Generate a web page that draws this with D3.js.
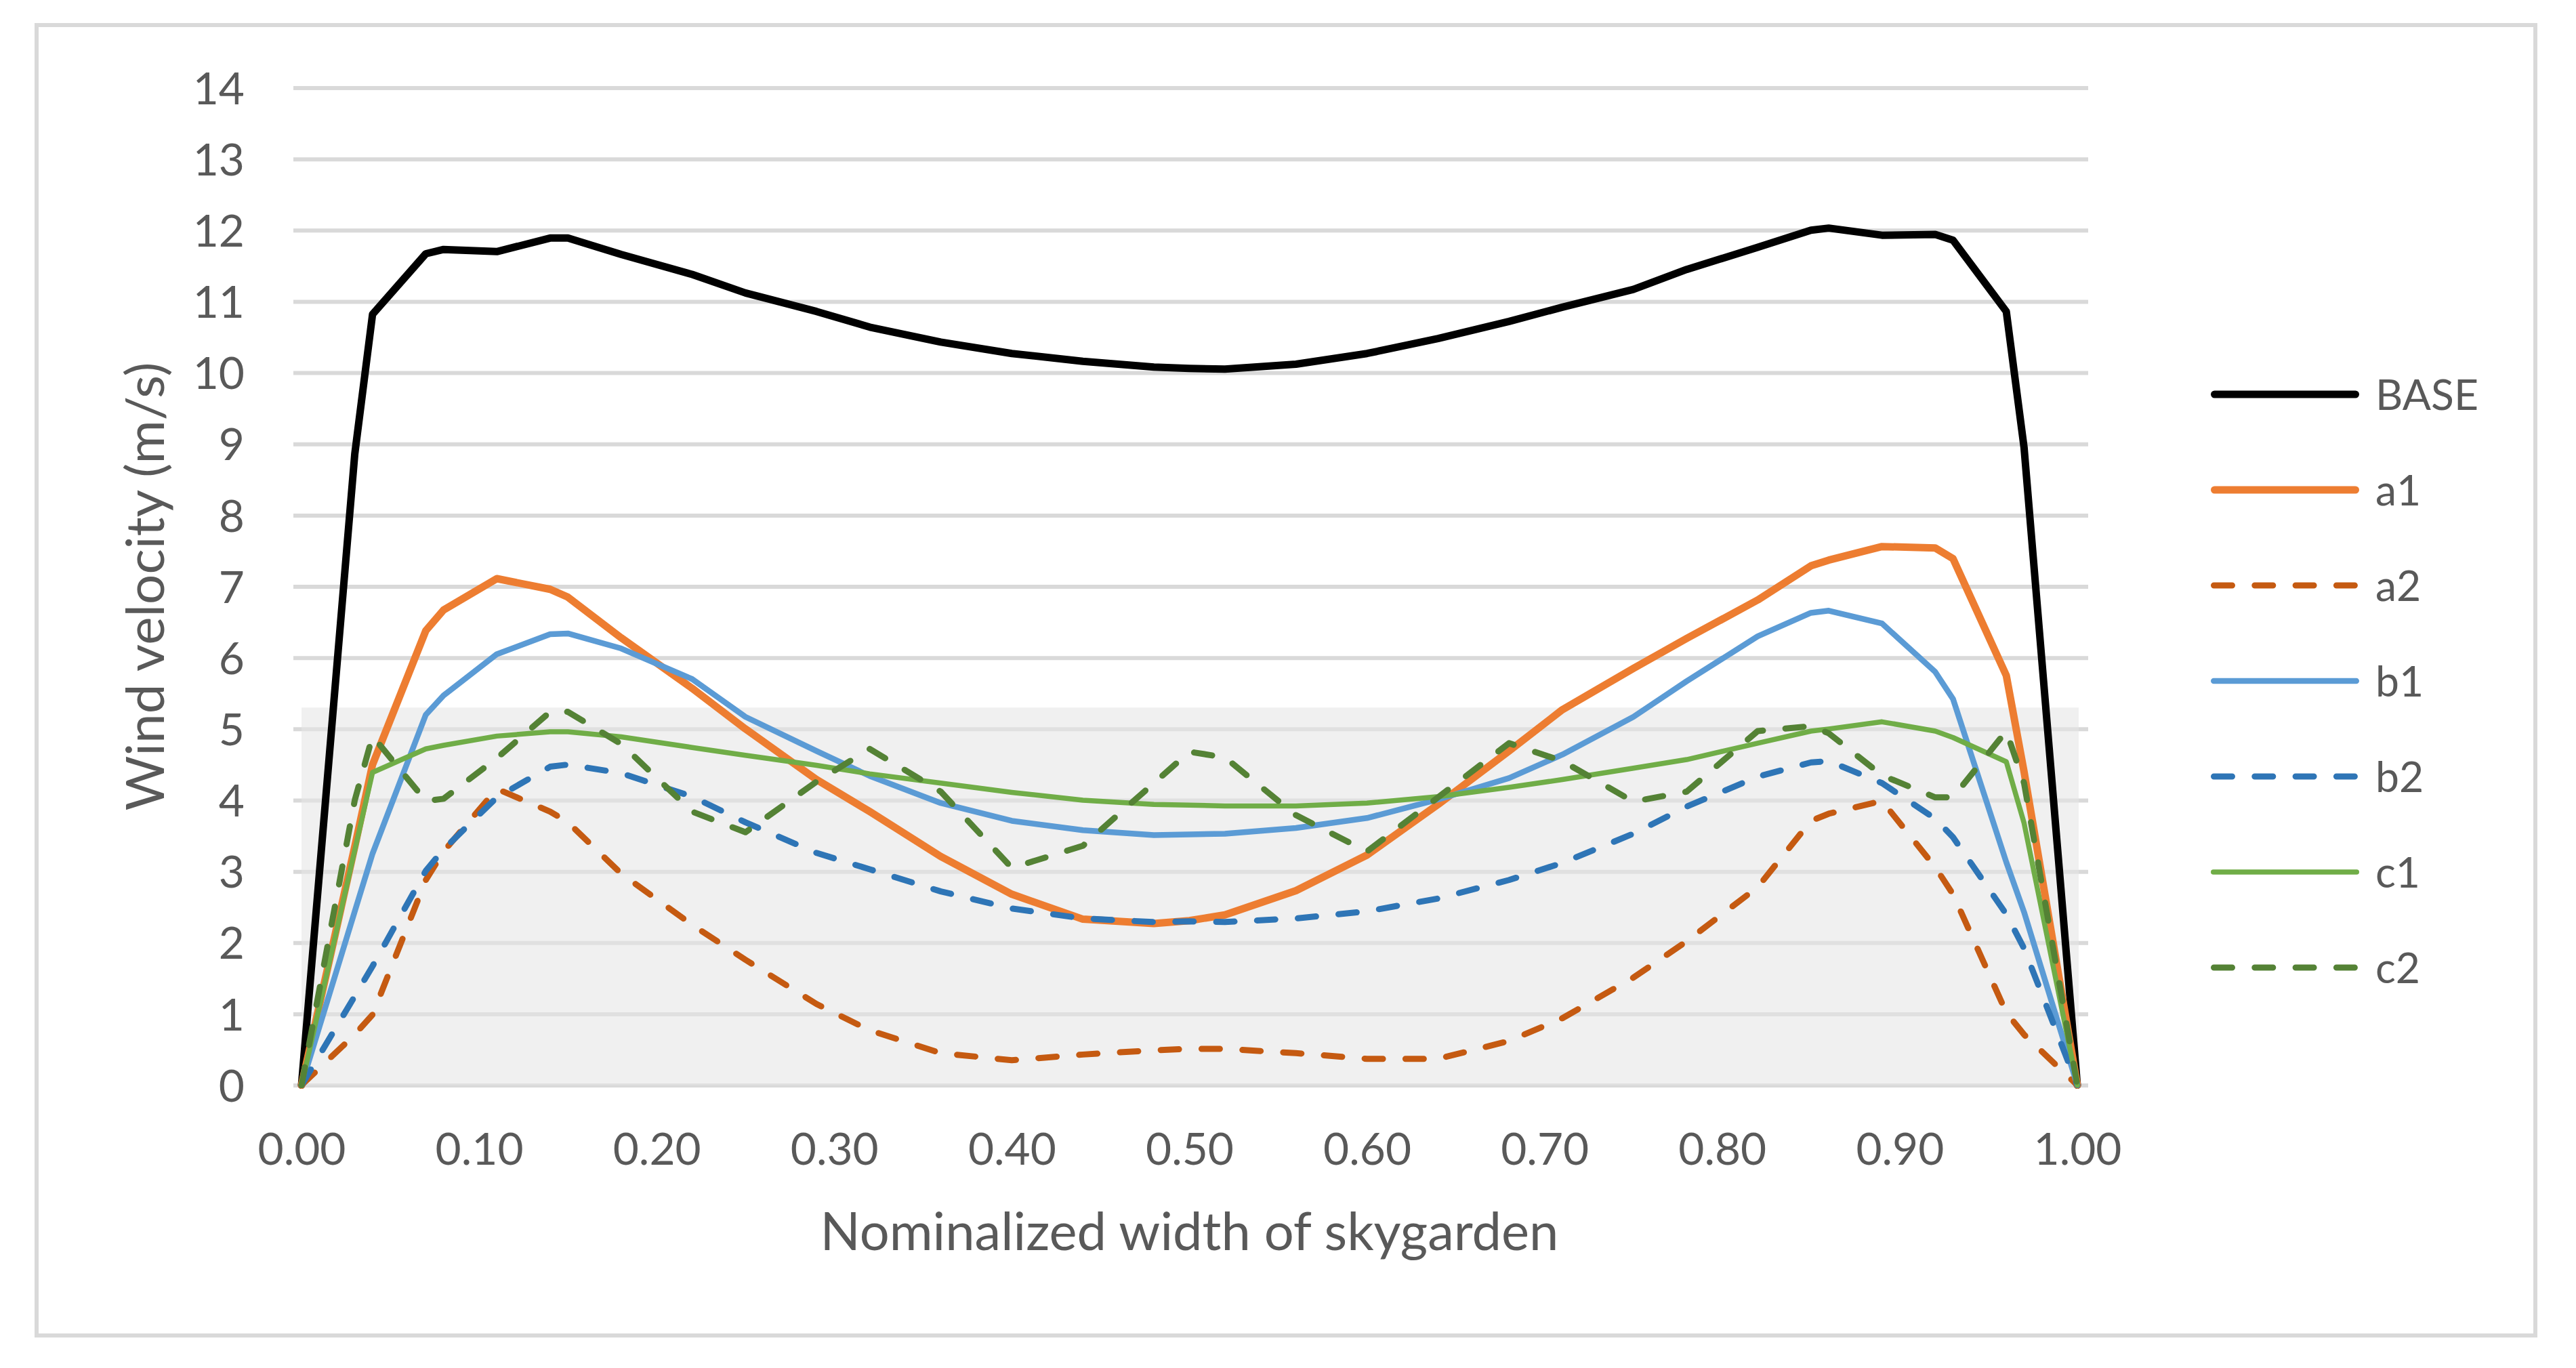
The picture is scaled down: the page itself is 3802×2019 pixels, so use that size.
<!DOCTYPE html>
<html>
<head>
<meta charset="utf-8">
<script src="https://cdn.jsdelivr.net/npm/d3@7"></script>
<style>
  html, body { margin: 0; padding: 0; background: #fff; }
  svg text { font-family: Lato, "Open Sans", sans-serif; fill: #595959; }
</style>
</head>
<body>
<div id="chart"></div>
<script>
// nominalized positions across the skygarden (shared by every series)
var xPos = [0, 0.03, 0.04, 0.07, 0.08, 0.11, 0.14, 0.15, 0.18, 0.22, 0.25, 0.29, 0.32, 0.36, 0.40, 0.44, 0.48, 0.50,
            0.52, 0.56, 0.60, 0.64, 0.68, 0.71, 0.75, 0.78, 0.82, 0.85, 0.86, 0.89, 0.92, 0.93, 0.96, 0.97, 1.00];

// wind velocity (m/s)
var baseVals = [0, 8.86, 10.82, 11.67, 11.73, 11.70, 11.89, 11.89, 11.66, 11.38, 11.12, 10.86, 10.64, 10.43, 10.27, 10.16, 10.08, 10.06,
                10.05, 10.12, 10.27, 10.48, 10.72, 10.92, 11.17, 11.45, 11.76, 12.00, 12.03, 11.93, 11.94, 11.86, 10.86, 8.95, 0];
var a1Vals = [0, 3.35, 4.5, 6.38, 6.67, 7.11, 6.96, 6.85, 6.28, 5.57, 5.0, 4.29, 3.84, 3.21, 2.68, 2.33, 2.27, 2.31,
              2.39, 2.73, 3.23, 3.94, 4.69, 5.27, 5.85, 6.27, 6.81, 7.29, 7.37, 7.56, 7.54, 7.39, 5.75, 4.4, 0];
var a2Vals = [0, 0.71, 0.99, 2.88, 3.28, 4.16, 3.84, 3.69, 2.97, 2.25, 1.76, 1.14, 0.77, 0.45, 0.35, 0.43, 0.49, 0.51,
              0.51, 0.45, 0.37, 0.37, 0.62, 0.94, 1.51, 2.02, 2.78, 3.71, 3.81, 3.99, 3.06, 2.68, 1.02, 0.71, 0];
var b1Vals = [0, 2.44, 3.25, 5.20, 5.47, 6.05, 6.33, 6.34, 6.13, 5.70, 5.17, 4.69, 4.34, 3.96, 3.71, 3.58, 3.51, 3.52,
              3.53, 3.61, 3.75, 4.01, 4.31, 4.64, 5.17, 5.67, 6.30, 6.63, 6.66, 6.48, 5.80, 5.42, 3.13, 2.43, 0];
var b2Vals = [0, 1.25, 1.67, 3.01, 3.31, 4.04, 4.47, 4.50, 4.38, 4.05, 3.69, 3.26, 3.03, 2.72, 2.48, 2.34, 2.29, 2.30,
              2.29, 2.34, 2.44, 2.62, 2.88, 3.12, 3.53, 3.91, 4.33, 4.53, 4.55, 4.24, 3.74, 3.48, 2.40, 1.92, 0];
var c1Vals = [0, 3.3, 4.39, 4.72, 4.77, 4.90, 4.96, 4.96, 4.89, 4.74, 4.63, 4.49, 4.37, 4.24, 4.11, 4.00, 3.94, 3.93,
              3.92, 3.92, 3.96, 4.05, 4.18, 4.29, 4.45, 4.57, 4.80, 4.97, 5.00, 5.10, 4.97, 4.88, 4.54, 3.68, 0];
var c2Vals = [0, 4.0, 4.9, 3.99, 4.02, 4.59, 5.24, 5.24, 4.79, 3.84, 3.55, 4.26, 4.72, 4.12, 3.05, 3.36, 4.24, 4.68,
              4.60, 3.79, 3.28, 4.04, 4.80, 4.55, 3.98, 4.12, 4.97, 5.04, 4.94, 4.35, 4.04, 4.04, 4.97, 4.24, 0];

var seriesNames = ["BASE", "a1", "a2", "b1", "b2", "c1", "c2"];
var seriesVals = [baseVals, a1Vals, a2Vals, b1Vals, b2Vals, c1Vals, c2Vals];

var xTicks = [0, 0.1, 0.2, 0.3, 0.4, 0.5, 0.6, 0.7, 0.8, 0.9, 1.0];
var yTicks = [0, 1, 2, 3, 4, 5, 6, 7, 8, 9, 10, 11, 12, 13, 14];
var shadeTop = 5.3;   // grey band drawn behind the lower curves

var xTitle = "Nominalized width of skygarden",
    yTitle = "Wind velocity (m/s)";

// line styles, Excel-ish
var styles = {
    BASE: { color: "#000000", width: 11 },
    a1:   { color: "#ED7D31", width: 11 },
    a2:   { color: "#C55A11", width: 9, dash: true },
    b1:   { color: "#5B9BD5", width: 8.5 },
    b2:   { color: "#2E75B6", width: 9, dash: true },
    c1:   { color: "#70AD47", width: 7.5 },
    c2:   { color: "#548235", width: 9, dash: true }
};

var W = 3802, H = 2019;

var svg = d3.select("#chart")
    .append("svg")
    .attr("width", W)
    .attr("height", H);

svg.append("rect").attr("width", W).attr("height", H).attr("fill", "#fff");

// font size that makes a string take the width it has in the picture
function fitSize(str, target) {
    var t = svg.append("text").attr("font-size", 100).text(str);
    var w = t.node().getComputedTextLength();
    t.remove();
    return 100 * target / w;
}

var tickFs = fitSize("0.00", 130),
    titleFs = fitSize(xTitle, 1090),
    yTitleFs = fitSize(yTitle, 662),
    legendFs = fitSize("BASE", 152);

var x = d3.scaleLinear().domain([0, 1]).range([445, 3066]);
var y = d3.scaleLinear().domain([0, 14]).range([1601.6, 129.5]);

var gridLeft = 433, gridRight = 3082;

// outer frame
svg.append("rect")
    .attr("x", 54).attr("y", 37)
    .attr("width", 3688).attr("height", 1934)
    .attr("fill", "none")
    .attr("stroke", "#d9d9d9")
    .attr("stroke-width", 6);

// horizontal gridlines
var grid = svg.append("g")
    .attr("transform", "translate(" + gridLeft + ",0)")
    .call(d3.axisRight(y).tickValues(yTicks).tickSize(gridRight - gridLeft).tickFormat(""));
grid.select(".domain").remove();
grid.selectAll(".tick line").attr("stroke", "#d9d9d9").attr("stroke-width", 6);

// shaded band (semi-transparent so the gridlines show through lighter)
svg.append("rect")
    .attr("x", x(0))
    .attr("y", y(shadeTop))
    .attr("width", x(1) - x(0) + 2)
    .attr("height", y(0) - y(shadeTop))
    .attr("fill", "rgb(229,229,229)")
    .attr("fill-opacity", 0.58);

// curves
var line = d3.line()
    .x(function(d) { return x(d.x); })
    .y(function(d) { return y(d.y); });

var data = seriesNames.map(function(name, i) {
    return {
        name: name,
        points: xPos.map(function(px, j) { return { x: px, y: seriesVals[i][j] }; })
    };
});

function dashFor(s) {
    return s.dash ? (3 * s.width) + "," + (3.7 * s.width) : null;
}

svg.append("g").selectAll(".curve")
    .data(data)
    .enter().append("path")
        .attr("class", "curve")
        .attr("fill", "none")
        .attr("stroke", function(d) { return styles[d.name].color; })
        .attr("stroke-width", function(d) { return styles[d.name].width; })
        .attr("stroke-dasharray", function(d) { return dashFor(styles[d.name]); })
        .attr("stroke-linejoin", "round")
        .attr("stroke-linecap", "round")
        .attr("d", function(d) { return line(d.points); });

// y tick labels
var yAxis = svg.append("g")
    .attr("transform", "translate(361,0)")
    .call(d3.axisLeft(y).tickValues(yTicks).tickSize(0).tickPadding(0));
yAxis.select(".domain").remove();
yAxis.attr("font-family", null).attr("font-size", null);
yAxis.selectAll("text")
    .attr("font-size", tickFs)
    .attr("dy", "0.36em")
    .attr("fill", "#595959");

// x tick labels
var xAxis = svg.append("g")
    .attr("transform", "translate(0,1719)")
    .call(d3.axisBottom(x).tickValues(xTicks).tickFormat(d3.format(".2f")).tickSize(0).tickPadding(0));
xAxis.select(".domain").remove();
xAxis.attr("font-family", null).attr("font-size", null);
xAxis.selectAll("text")
    .attr("font-size", tickFs)
    .attr("dy", 0)
    .attr("fill", "#595959");

// axis titles
svg.append("text")
    .attr("x", (x(0) + x(1)) / 2)
    .attr("y", 1845)
    .attr("text-anchor", "middle")
    .attr("font-size", titleFs)
    .text(xTitle);

svg.append("text")
    .attr("transform", "translate(242," + ((y(0) + y(14)) / 2) + ") rotate(-90)")
    .attr("text-anchor", "middle")
    .attr("font-size", yTitleFs)
    .text(yTitle);

// legend
var legend = svg.append("g").selectAll(".legend")
    .data(seriesNames)
    .enter().append("g")
        .attr("class", "legend")
        .attr("transform", function(d, i) { return "translate(0," + (582 + i * 141) + ")"; });

legend.append("line")
    .attr("x1", function(d) { return 3263 + styles[d].width / 2; })
    .attr("x2", function(d) { return 3482 - styles[d].width / 2; })
    .attr("stroke", function(d) { return styles[d].color; })
    .attr("stroke-width", function(d) { return styles[d].width; })
    .attr("stroke-dasharray", function(d) { return dashFor(styles[d]); })
    .attr("stroke-linecap", "round");

legend.append("text")
    .attr("x", 3506)
    .attr("dy", "0.36em")
    .attr("font-size", legendFs)
    .text(function(d) { return d; });
</script>
</body>
</html>
